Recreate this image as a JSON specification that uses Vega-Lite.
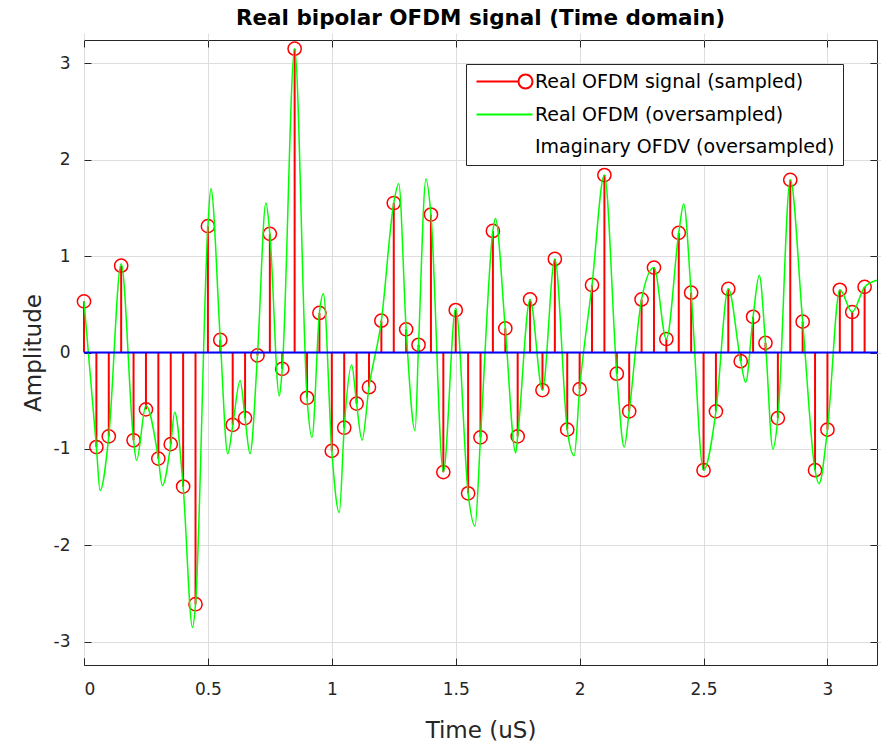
{
  "$schema": "https://vega.github.io/schema/vega-lite/v6.json",
  "width": 793,
  "height": 625,
  "autosize": {"type": "none"},
  "padding": {"left": 84, "top": 40, "right": 4, "bottom": 81},
  "background": "white",
  "title": {"text": "Real bipolar OFDM signal (Time domain)", "font": "DejaVu Sans", "fontSize": 21.5, "fontWeight": "bold", "color": "#000000", "anchor": "middle", "offset": 10},
  "config": {
    "view": {"stroke": "#262626", "strokeWidth": 1},
    "axis": {"labelFont": "DejaVu Sans", "titleFont": "DejaVu Sans", "labelColor": "#262626", "titleColor": "#262626", "tickColor": "#262626", "gridColor": "#dedede", "gridWidth": 1, "labelFontSize": 17, "titleFontSize": 23, "titleFontWeight": "normal", "domain": false, "tickSize": 7, "tickWidth": 1, "offset": -7}
  },
  "datasets": {
    "samples": [
      {"t": 0, "v": 0.53}, {"t": 0.05, "v": -0.98}, {"t": 0.1, "v": -0.87}, {"t": 0.15, "v": 0.9}, {"t": 0.2, "v": -0.91},
      {"t": 0.25, "v": -0.59}, {"t": 0.3, "v": -1.1}, {"t": 0.35, "v": -0.95}, {"t": 0.4, "v": -1.39}, {"t": 0.45, "v": -2.61},
      {"t": 0.5, "v": 1.31}, {"t": 0.55, "v": 0.13}, {"t": 0.6, "v": -0.75}, {"t": 0.65, "v": -0.68}, {"t": 0.7, "v": -0.03},
      {"t": 0.75, "v": 1.23}, {"t": 0.8, "v": -0.17}, {"t": 0.85, "v": 3.15}, {"t": 0.9, "v": -0.47}, {"t": 0.95, "v": 0.41},
      {"t": 1.0, "v": -1.02}, {"t": 1.05, "v": -0.78}, {"t": 1.1, "v": -0.53}, {"t": 1.15, "v": -0.36}, {"t": 1.2, "v": 0.33},
      {"t": 1.25, "v": 1.55}, {"t": 1.3, "v": 0.24}, {"t": 1.35, "v": 0.08}, {"t": 1.4, "v": 1.43}, {"t": 1.45, "v": -1.24},
      {"t": 1.5, "v": 0.44}, {"t": 1.55, "v": -1.46}, {"t": 1.6, "v": -0.88}, {"t": 1.65, "v": 1.26}, {"t": 1.7, "v": 0.25},
      {"t": 1.75, "v": -0.87}, {"t": 1.8, "v": 0.55}, {"t": 1.85, "v": -0.39}, {"t": 1.9, "v": 0.97}, {"t": 1.95, "v": -0.8},
      {"t": 2.0, "v": -0.38}, {"t": 2.05, "v": 0.7}, {"t": 2.1, "v": 1.84}, {"t": 2.15, "v": -0.22}, {"t": 2.2, "v": -0.61},
      {"t": 2.25, "v": 0.55}, {"t": 2.3, "v": 0.88}, {"t": 2.35, "v": 0.14}, {"t": 2.4, "v": 1.24}, {"t": 2.45, "v": 0.62},
      {"t": 2.5, "v": -1.22}, {"t": 2.55, "v": -0.61}, {"t": 2.6, "v": 0.66}, {"t": 2.65, "v": -0.09}, {"t": 2.7, "v": 0.37},
      {"t": 2.75, "v": 0.1}, {"t": 2.8, "v": -0.68}, {"t": 2.85, "v": 1.79}, {"t": 2.9, "v": 0.32}, {"t": 2.95, "v": -1.22},
      {"t": 3.0, "v": -0.8}, {"t": 3.05, "v": 0.65}, {"t": 3.1, "v": 0.42}, {"t": 3.15, "v": 0.68}
    ],
    "over": [
      {"t": 0, "v": 0.53}, {"t": 0.05, "v": -0.98}, {"t": 0.065, "v": -1.43}, {"t": 0.1, "v": -0.87}, {"t": 0.15, "v": 0.92},
      {"t": 0.2, "v": -0.91}, {"t": 0.212, "v": -1.12}, {"t": 0.25, "v": -0.55}, {"t": 0.3, "v": -1.1}, {"t": 0.316, "v": -1.38},
      {"t": 0.35, "v": -0.95}, {"t": 0.366, "v": -0.62}, {"t": 0.4, "v": -1.39}, {"t": 0.438, "v": -2.85}, {"t": 0.45, "v": -2.61},
      {"t": 0.5, "v": 1.31}, {"t": 0.512, "v": 1.7}, {"t": 0.55, "v": 0.13}, {"t": 0.58, "v": -1.05}, {"t": 0.6, "v": -0.76},
      {"t": 0.63, "v": -0.29}, {"t": 0.65, "v": -0.68}, {"t": 0.67, "v": -1.05}, {"t": 0.7, "v": -0.03}, {"t": 0.734, "v": 1.55},
      {"t": 0.75, "v": 1.23}, {"t": 0.788, "v": -0.45}, {"t": 0.8, "v": -0.17}, {"t": 0.85, "v": 3.15}, {"t": 0.9, "v": -0.47},
      {"t": 0.92, "v": -0.88}, {"t": 0.95, "v": 0.41}, {"t": 0.966, "v": 0.61}, {"t": 1.0, "v": -1.02}, {"t": 1.03, "v": -1.66},
      {"t": 1.05, "v": -0.78}, {"t": 1.08, "v": -0.13}, {"t": 1.1, "v": -0.53}, {"t": 1.122, "v": -0.91}, {"t": 1.15, "v": -0.36},
      {"t": 1.2, "v": 0.33}, {"t": 1.25, "v": 1.55}, {"t": 1.27, "v": 1.75}, {"t": 1.3, "v": 0.24}, {"t": 1.336, "v": -0.81},
      {"t": 1.35, "v": 0.08}, {"t": 1.38, "v": 1.8}, {"t": 1.4, "v": 1.43}, {"t": 1.45, "v": -1.24}, {"t": 1.5, "v": 0.46},
      {"t": 1.55, "v": -1.46}, {"t": 1.578, "v": -1.8}, {"t": 1.6, "v": -0.88}, {"t": 1.65, "v": 1.26}, {"t": 1.66, "v": 1.39},
      {"t": 1.7, "v": 0.25}, {"t": 1.742, "v": -1.04}, {"t": 1.75, "v": -0.87}, {"t": 1.8, "v": 0.55}, {"t": 1.85, "v": -0.39},
      {"t": 1.9, "v": 0.97}, {"t": 1.95, "v": -0.8}, {"t": 1.978, "v": -1.07}, {"t": 2.0, "v": -0.38}, {"t": 2.05, "v": 0.7},
      {"t": 2.1, "v": 1.84}, {"t": 2.15, "v": -0.22}, {"t": 2.18, "v": -0.98}, {"t": 2.2, "v": -0.61}, {"t": 2.25, "v": 0.55},
      {"t": 2.3, "v": 0.88}, {"t": 2.35, "v": 0.14}, {"t": 2.4, "v": 1.24}, {"t": 2.42, "v": 1.54}, {"t": 2.45, "v": 0.62},
      {"t": 2.5, "v": -1.22}, {"t": 2.55, "v": -0.61}, {"t": 2.6, "v": 0.66}, {"t": 2.65, "v": -0.09}, {"t": 2.67, "v": -0.31},
      {"t": 2.7, "v": 0.37}, {"t": 2.725, "v": 0.8}, {"t": 2.75, "v": 0.1}, {"t": 2.78, "v": -1.0}, {"t": 2.8, "v": -0.68},
      {"t": 2.85, "v": 1.79}, {"t": 2.9, "v": 0.32}, {"t": 2.95, "v": -1.22}, {"t": 2.966, "v": -1.36}, {"t": 3.0, "v": -0.8},
      {"t": 3.05, "v": 0.65}, {"t": 3.1, "v": 0.42}, {"t": 3.15, "v": 0.68}, {"t": 3.2, "v": 0.75}
    ],
    "imag": [{"t": 0, "v": 0}, {"t": 3.2, "v": 0}],
    "legend": [
      {"series": "Real OFDM signal (sampled)"},
      {"series": "Real OFDM (oversampled)"},
      {"series": "Imaginary OFDV (oversampled)"}
    ]
  },
  "layer": [
    {
      "data": {"name": "samples"},
      "mark": {"type": "rule", "color": "#ff0000", "strokeWidth": 2},
      "encoding": {
        "x": {"field": "t", "type": "quantitative", "scale": {"domain": [0, 3.2], "nice": false, "zero": false},
              "axis": {"title": "Time (uS)", "values": [0, 0.5, 1, 1.5, 2, 2.5, 3], "labelExpr": "'' + datum.value", "grid": true, "labelPadding": 16, "titlePadding": 22}},
        "y": {"field": "v", "type": "quantitative", "scale": {"domain": [-3.24, 3.24], "nice": false, "zero": false},
              "axis": {"title": "Amplitude", "values": [-3, -2, -1, 0, 1, 2, 3], "labelExpr": "'' + datum.value", "grid": true, "labelPadding": 14, "titlePadding": 8}},
        "y2": {"datum": 0}
      }
    },
    {
      "data": {"name": "samples"},
      "mark": {"type": "point", "shape": "circle", "filled": false, "color": "#ff0000", "size": 175, "strokeWidth": 1.5, "opacity": 1},
      "encoding": {
        "x": {"field": "t", "type": "quantitative", "axis": null},
        "y": {"field": "v", "type": "quantitative", "axis": null}
      }
    },
    {
      "data": {"name": "over"},
      "mark": {"type": "line", "color": "#00ff00", "strokeWidth": 1.5, "interpolate": "monotone"},
      "encoding": {
        "x": {"field": "t", "type": "quantitative", "axis": null},
        "y": {"field": "v", "type": "quantitative", "axis": null}
      }
    },
    {
      "data": {"name": "imag"},
      "mark": {"type": "line", "color": "#0000ff", "strokeWidth": 2},
      "encoding": {
        "x": {"field": "t", "type": "quantitative", "axis": {"orient": "top", "labels": false, "title": null, "grid": false, "values": [0, 0.5, 1, 1.5, 2, 2.5, 3]}},
        "y": {"field": "v", "type": "quantitative", "axis": {"orient": "right", "labels": false, "title": null, "grid": false, "values": [-3, -2, -1, 0, 1, 2, 3]}}
      }
    },
    {
      "data": {"name": "legend"},
      "mark": {"type": "point", "filled": false, "opacity": 0, "size": 196, "strokeWidth": 2},
      "encoding": {
        "color": {"field": "series", "type": "nominal",
                  "scale": {"domain": ["Real OFDM signal (sampled)", "Real OFDM (oversampled)", "Imaginary OFDV (oversampled)"], "range": ["#ff0000", "#00ff00", "#0000ff"]},
                  "legend": {"title": null, "orient": "none", "legendX": 382, "legendY": 24, "labelFont": "DejaVu Sans", "labelFontSize": 19, "labelColor": "#000000", "fillColor": "#ffffff", "strokeColor": "#262626", "padding": 8, "rowPadding": 12, "symbolSize": 196, "symbolStrokeWidth": 2, "symbolOpacity": 1, "labelOffset": 42, "labelLimit": 400}},
        "shape": {"field": "series", "type": "nominal",
                  "scale": {"domain": ["Real OFDM signal (sampled)", "Real OFDM (oversampled)", "Imaginary OFDV (oversampled)"], "range": ["M-1,0L5,0M7,0A1,1,0,1,1,5,0A1,1,0,1,1,7,0", "M-1,0L7,0", "M0,0"]}}
      }
    }
  ],
  "resolve": {"axis": {"x": "independent", "y": "independent"}}
}
